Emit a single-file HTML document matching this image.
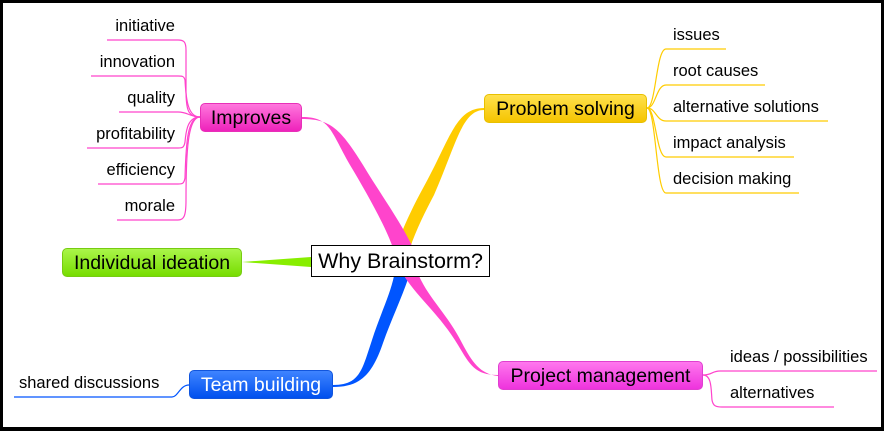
<!DOCTYPE html>
<html><head><meta charset="utf-8"><style>
body{margin:0;width:884px;height:431px;overflow:hidden;background:#fff;font-family:"Liberation Sans",sans-serif}
.frame{position:absolute;left:0;top:0;width:878px;height:424px;border:3px solid #000;border-bottom-width:4px}
.n{position:absolute;box-sizing:border-box;border-radius:5px;font-size:19.5px;text-align:center;line-height:28px;color:#000;white-space:nowrap}
.t{position:absolute;font-size:16.5px;color:#000;white-space:nowrap}
</style></head><body>
<div class="frame"></div>
<svg width="884" height="431" style="position:absolute;left:0;top:0">
<g fill="none" stroke-width="1.2">
<g stroke="#ff44cc">
<path d="M200 117 C188 117 186 110 186 90 L186 50 C186 42 184 40 178 40 H107"/>
<path d="M200 117 C188 117 186 100 185 80 C184 76 182 76 178 76 H91"/>
<path d="M200 117 C190 117 188 112 178 112 H119"/>
<path d="M200 117 C188 117 186 130 185 142 C184 148 182 148 178 148 H87"/>
<path d="M200 117 C188 117 186 140 185 178 C184 184 182 184 178 184 H98"/>
<path d="M200 117 C188 117 186 150 186 200 C186 216 184 220 178 220 H117"/>
<path d="M703 375 C712 375 712 371 720 371 H877"/>
<path d="M703 375 C712 375 711 390 712 400 C713 406 716 407 722 407 H834"/>
</g>
<g stroke="#ffcc00">
<path d="M647 108 C656 108 656 49 666 49 H726"/>
<path d="M647 108 C656 108 656 85 666 85 H765"/>
<path d="M647 108 C656 108 656 121 666 121 H828"/>
<path d="M647 108 C656 108 656 157 666 157 H794"/>
<path d="M647 108 C656 108 656 193 666 193 H799"/>
</g>
<path stroke="#0055ff" d="M189 385 C180 385 178 397 172 397 H14"/>
</g>
<path fill="#ffcc00" d="M484 108 C455 108 450 140 422 190 C410 212 400 235 396 248 L410 248 C416 230 426 210 434 195 C456 145 462 110 484 110 Z"/>
<path fill="#ff44cc" d="M302 117 C330 117 330 130 350 165 C365 190 385 225 393 248 L413 248 C401 222 381 195 363 165 C340 128 330 119 302 119 Z"/>
<path fill="#0055ff" d="M333 385 C360 385 362 370 372 340 C380 315 390 295 394 276 L409 276 C401 300 391 320 383 343 C372 375 360 387 333 387 Z"/>
<path fill="#ff44cc" d="M498 375 C475 375 470 365 458 345 C440 315 420 300 404 276 L419 276 C430 300 448 315 462 343 C472 362 480 374 498 376 Z"/>
<path fill="#88ee00" d="M242 262 L311 257 L311 267 Z"/>
</svg>
<div class="n" style="left:200px;top:103px;width:102px;height:29px;background:linear-gradient(#ff77dd,#ee22bb);border:1px solid #e830b8">Improves</div>
<div class="n" style="left:484px;top:94px;width:163px;height:29px;background:linear-gradient(#ffe14d,#f5c400);border:1px solid #e8c000">Problem solving</div>
<div class="n" style="left:62px;top:248px;width:180px;height:29px;background:linear-gradient(#aaf54a,#77dd00);border:1px solid #77cc11">Individual ideation</div>
<div class="n" style="left:189px;top:370px;width:144px;height:29px;background:linear-gradient(#3f84ff,#0050ee);border:1px solid #1155dd;color:#fff">Team building</div>
<div class="n" style="left:498px;top:361px;width:205px;height:29px;background:linear-gradient(#ff77ee,#ee33dd);border:1px solid #e040d0">Project management</div>
<div class="n" style="left:311px;top:245px;width:179px;height:32px;background:#fff;border:1px solid #000;border-radius:0;font-size:21.5px;line-height:30px">Why Brainstorm?</div>
<div class="t" style="right:709px;top:17px">initiative</div>
<div class="t" style="right:709px;top:53px">innovation</div>
<div class="t" style="right:709px;top:89px">quality</div>
<div class="t" style="right:709px;top:125px">profitability</div>
<div class="t" style="right:709px;top:161px">efficiency</div>
<div class="t" style="right:709px;top:197px">morale</div>
<div class="t" style="left:673px;top:26px">issues</div>
<div class="t" style="left:673px;top:62px">root causes</div>
<div class="t" style="left:673px;top:98px">alternative solutions</div>
<div class="t" style="left:673px;top:134px">impact analysis</div>
<div class="t" style="left:673px;top:170px">decision making</div>
<div class="t" style="left:730px;top:348px">ideas / possibilities</div>
<div class="t" style="left:730px;top:384px">alternatives</div>
<div class="t" style="left:19px;top:374px">shared discussions</div>
</body></html>
